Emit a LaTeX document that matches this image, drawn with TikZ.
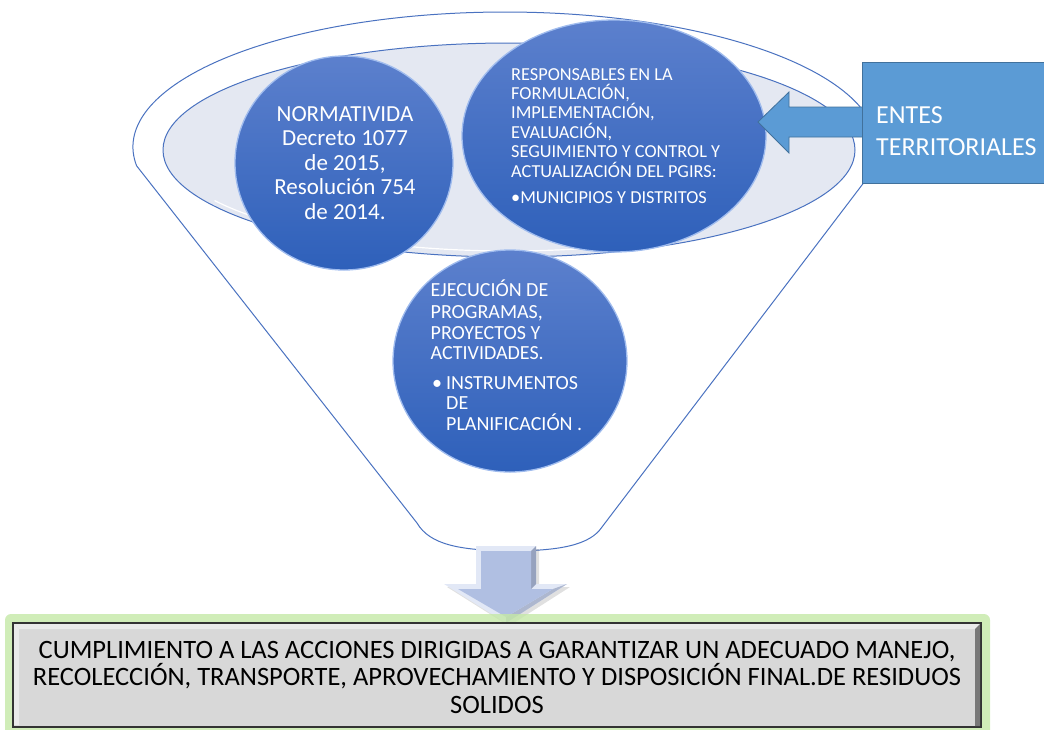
\documentclass[tikz,border=0pt]{standalone}
\usepackage{fontspec}
\setmainfont{Carlito}
\usetikzlibrary{shapes.geometric}
\definecolor{funnelline}{RGB}{74,114,192}
\definecolor{funnelfill}{RGB}{228,232,242}
\definecolor{circtop}{RGB}{92,128,205}
\definecolor{circbot}{RGB}{46,96,186}
\definecolor{circrim}{RGB}{160,188,238}
\definecolor{entesfill}{RGB}{91,155,213}
\definecolor{entesline}{RGB}{65,113,156}
\definecolor{arrowfill}{RGB}{176,191,226}
\definecolor{arrowlight}{RGB}{226,232,246}
\definecolor{arrowdark}{RGB}{150,162,190}
\definecolor{boxfill}{RGB}{216,216,216}
\definecolor{boxlight}{RGB}{234,234,234}
\definecolor{boxdark}{RGB}{120,120,120}
\definecolor{glowgreen}{RGB}{196,232,166}
\tikzset{
  funnel/.style={draw=funnelline, line width=1pt},
  bubble/.style={ellipse, inner sep=0pt, top color=circtop, bottom color=circbot, draw=circrim, line width=1.3pt},
  wtxt/.style={text=white, inner sep=0pt},
  btxt/.style={text=black, inner sep=0pt, font=\fontsize{26.5}{28}\selectfont},
  normtxt/.style={wtxt, font=\fontsize{23}{25}\selectfont},
  resptxt/.style={wtxt, anchor=base west, font=\fontsize{18.3}{20}\selectfont},
  ejectxt/.style={wtxt, anchor=base west, font=\fontsize{20}{22}\selectfont},
  entestxt/.style={wtxt, anchor=base west, font=\fontsize{26}{28}\selectfont},
}
\begin{document}
\begin{tikzpicture}[x=1pt,y=-1pt]
\useasboundingbox (0,0) rectangle (1044,729);
% funnel outline
\draw[funnel] (136.6,165.8) arc[start angle=172, end angle=375, x radius=372, y radius=135]
  -- (602,527) .. controls (590,545) and (560,551) .. (508,551)
  .. controls (460,550) and (430,545) .. (417,523) -- cycle;
% funnel mouth
\draw[fill=funnelfill, draw=funnelline, line width=1pt] (509,150) ellipse [x radius=346, y radius=107];
\draw[white, line width=1.2pt] (509,150) ++(150:340 and 101) arc[start angle=150, end angle=75, x radius=340, y radius=101];
% bubbles
\node[bubble, minimum width=218pt, minimum height=214pt] (norm) at (344,163) {};
\node[bubble, minimum width=304pt, minimum height=232pt] (resp) at (614,136) {};
\node[bubble, minimum width=234pt, minimum height=222pt] (ejec) at (510,361) {};
% NORMATIVIDA text
\node[normtxt, anchor=base] (n1) at (345,121) {NORMATIVIDA};
\node[normtxt, anchor=base] (n2) at (345,145.5) {Decreto 1077};
\node[normtxt, anchor=base] (n3) at (345,170) {de 2015,};
\node[normtxt, anchor=base] (n4) at (345,194.5) {Resolución 754};
\node[normtxt, anchor=base] (n5) at (345,219) {de 2014.};
% RESPONSABLES text
\node[resptxt] (r1) at (511,80) {RESPONSABLES EN LA};
\node[resptxt] (r2) at (511,99.4) {FORMULACIÓN,};
\node[resptxt] (r3) at (511,118.8) {IMPLEMENTACIÓN,};
\node[resptxt] (r4) at (511,138.2) {EVALUACIÓN,};
\node[resptxt] (r5) at (511,157.6) {SEGUIMIENTO Y CONTROL Y};
\node[resptxt] (r6) at (511,177) {ACTUALIZACIÓN DEL PGIRS:};
\node[resptxt] (r7) at (511,203) {•MUNICIPIOS Y DISTRITOS};
% EJECUCION text
\node[ejectxt] (e1) at (430.5,296.7) {EJECUCIÓN DE};
\node[ejectxt] (e2) at (430.5,318.3) {PROGRAMAS,};
\node[ejectxt] (e3) at (430.5,339.3) {PROYECTOS Y};
\node[ejectxt] (e4) at (430.5,359.3) {ACTIVIDADES.};
\node[ejectxt] (eb) at (432,389) {•};
\node[ejectxt] (e5) at (446,389) {INSTRUMENTOS};
\node[ejectxt] (e6) at (446,409.3) {DE};
\node[ejectxt] (e7) at (446,430.7) {PLANIFICACIÓN .};
% ENTES arrow and box
\draw[fill=entesfill, draw=entesline, line width=0.8pt]
  (866,107) -- (789,107) -- (789,92) -- (758,122) -- (789,153) -- (789,137) -- (866,137);
\node[fill=entesfill, draw=entesline, line width=0.8pt, minimum width=186pt, minimum height=121pt, inner sep=0pt] (entes) at (955,122.5) {};
\node[entestxt] (t1) at (876,123) {ENTES};
\node[entestxt] (t2) at (876,155) {TERRITORIALES};
% down arrow
\fill[black, opacity=0.12] (479,549) -- (539,549) -- (539,587) -- (570,587) -- (509,626) -- (447,587) -- (479,587) -- cycle;
\fill[arrowlight] (476,546) -- (536,546) -- (536,584) -- (567,584) -- (506,623) -- (444,584) -- (476,584) -- cycle;
\fill[arrowdark] (536,546) -- (536,584) -- (531,589) -- (531,551) -- cycle;
\fill[arrowdark!70!arrowlight] (567,584) -- (506,623) -- (506,617) -- (553,589) -- cycle;
\fill[arrowfill] (481,551) -- (531,551) -- (531,589) -- (553,589) -- (506,617) -- (458,589) -- (481,589) -- cycle;
\coordinate (arrowtip) at (506,623);
% bottom box
\fill[glowgreen, opacity=0.8, rounded corners=6pt] (5,614) rectangle (990,740);
\node[fill=boxfill, draw=black!80, line width=1.2pt, minimum width=968pt, minimum height=104pt, inner sep=0pt] (result) at (497,675) {};
\fill[boxlight] (14,624) -- (980,624) -- (975,629) -- (19,629) -- cycle;
\fill[boxlight] (14,624) -- (19,629) -- (19,725) -- (14,725) -- cycle;
\fill[boxdark] (980,624) -- (980,726) -- (975,726) -- (975,629) -- cycle;
\node[btxt, anchor=base] (b1) at (497,658) {CUMPLIMIENTO A LAS ACCIONES DIRIGIDAS A GARANTIZAR UN ADECUADO MANEJO,};
\node[btxt, anchor=base] (b2) at (497,685) {RECOLECCIÓN, TRANSPORTE, APROVECHAMIENTO Y DISPOSICIÓN FINAL.DE RESIDUOS};
\node[btxt, anchor=base] (b3) at (497,713) {SOLIDOS};
\draw[draw=none] (arrowtip) -- (result.north);
\end{tikzpicture}
\end{document}
